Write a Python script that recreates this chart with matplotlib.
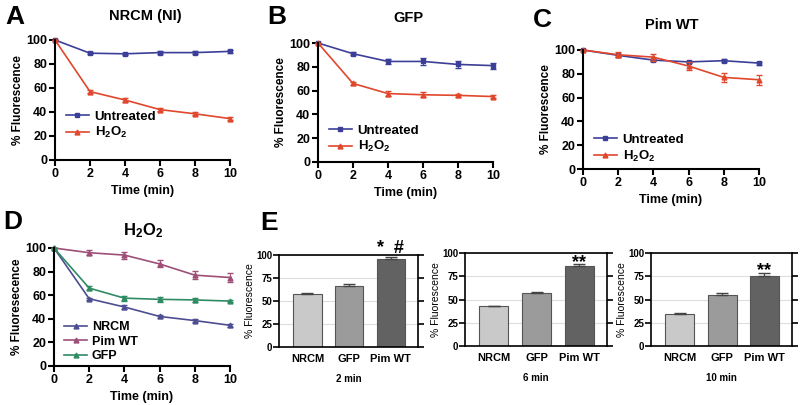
import numpy as np
import matplotlib
matplotlib.use("Agg")
import matplotlib.pyplot as plt

plt.rcParams['font.family'] = ['Liberation Sans', 'DejaVu Sans']
plt.rcParams['mathtext.default'] = 'regular'

# time course data
t = [0, 2, 4, 6, 8, 10]

nrcm_untr = [100, 89, 88.5, 89.5, 89.5, 90.5]
nrcm_untr_err = [0, 0.8, 0.8, 1.0, 1.0, 1.2]
nrcm_h2o2 = [100, 57, 50, 42, 38.5, 34.5]
nrcm_h2o2_err = [0, 1.0, 1.5, 1.5, 1.2, 1.5]

gfp_untr = [100, 91, 84.5, 84.5, 82, 81]
gfp_untr_err = [0, 1.5, 2.0, 3.0, 3.0, 2.5]
gfp_h2o2 = [100, 66, 57.5, 56.5, 56, 55]
gfp_h2o2_err = [0, 1.5, 2.0, 2.0, 1.5, 1.0]

pim_untr = [100, 95.5, 91.5, 90, 91, 89]
pim_untr_err = [0, 1.0, 1.0, 1.0, 1.5, 1.2]
pim_h2o2 = [100, 96, 94, 86.5, 77, 75]
pim_h2o2_err = [0, 2.0, 3.0, 3.0, 3.5, 4.0]

# bar data (H2O2 treated)
groups = ['NRCM', 'GFP', 'Pim WT']
bar_2 = [57.5, 66.5, 95.5]
bar_2_err = [1.0, 2.0, 2.0]
bar_6 = [42.5, 56.5, 86.5]
bar_6_err = [1.0, 2.0, 2.0]
bar_10 = [34.5, 55, 75]
bar_10_err = [1.5, 2.0, 4.0]

blue = '#3c3f98'
red = '#e0472c'
c_nrcm = '#4d4e92'
c_pim = '#9d4f78'
c_gfp = '#2e8b63'
bar_cols = ['#c9c9c9', '#9b9b9b', '#626262']

fig = plt.figure(figsize=(8, 4.05), dpi=100)


def px_axes(l, t_, r, b):
    return fig.add_axes([l / 800, 1 - b / 405, (r - l) / 800, (b - t_) / 405])


def fig_label(x, y, s, **kw):
    fig.text(x / 800, 1 - y / 405, s, ha='center', va='center',
             fontweight='bold', **kw)


def line_panel(ax, series, ylabel, leg_anchor, leg_size=9.5):
    for y, e, c, m, lab in series:
        ax.errorbar(t, y, yerr=e, fmt='none', ecolor=c, capsize=2,
                    elinewidth=0.7, clip_on=False)
        ax.plot(t, y, color=c, marker=m, ms=3.5, lw=1.2, label=lab,
                clip_on=False)
    ax.set_xlim(0, 10)
    ax.set_ylim(0, 100)
    ax.set_xticks([0, 2, 4, 6, 8, 10])
    ax.set_yticks([0, 20, 40, 60, 80, 100])
    for s in ['top', 'right']:
        ax.spines[s].set_visible(False)
    for s in ['left', 'bottom']:
        ax.spines[s].set_linewidth(1.5)
    ax.tick_params(width=1.5, length=4, labelsize=9, pad=1.5)
    for lb in ax.get_xticklabels() + ax.get_yticklabels():
        lb.set_fontweight('bold')
    ax.set_xlabel('Time (min)', fontsize=9, fontweight='bold', labelpad=4)
    ax.set_ylabel(ylabel, fontsize=8.5, fontweight='bold', labelpad=2)
    ax.legend(loc='lower left', bbox_to_anchor=leg_anchor, frameon=False,
              prop={'size': leg_size, 'weight': 'bold'}, handlelength=1.8,
              handletextpad=0.4, labelspacing=0.2, borderaxespad=0)


ax_a = px_axes(55, 40, 230, 160)
line_panel(ax_a, [(nrcm_untr, nrcm_untr_err, blue, 's', 'Untreated'),
                  (nrcm_h2o2, nrcm_h2o2_err, red, '^', 'H$_2$O$_2$')],
           '% Fluorescence', (0.03, 0.12))
fig_label(15, 17, 'A', fontsize=19)
fig_label(145, 16, 'NRCM (NI)', fontsize=10.5)

ax_b = px_axes(318, 43, 493, 162)
line_panel(ax_b, [(gfp_untr, gfp_untr_err, blue, 's', 'Untreated'),
                  (gfp_h2o2, gfp_h2o2_err, red, '^', 'H$_2$O$_2$')],
           '% Fluorescence', (0.03, 0.02))
fig_label(277, 17, 'B', fontsize=19)
fig_label(408, 18, 'GFP', fontsize=10.5)

ax_c = px_axes(583, 50, 759, 169)
line_panel(ax_c, [(pim_untr, pim_untr_err, blue, 's', 'Untreated'),
                  (pim_h2o2, pim_h2o2_err, red, '^', 'H$_2$O$_2$')],
           '% Fluorescence', (0.03, 0.0))
fig_label(542, 20, 'C', fontsize=19)
fig_label(672, 25, 'Pim WT', fontsize=10.5)

ax_d = px_axes(54, 248, 230, 366)
line_panel(ax_d, [(nrcm_h2o2, nrcm_h2o2_err, c_nrcm, '^', 'NRCM'),
                  (pim_h2o2, pim_h2o2_err, c_pim, '^', 'Pim WT'),
                  (gfp_h2o2, gfp_h2o2_err, c_gfp, '^', 'GFP')],
           '% Fluoresecence', (0.03, -0.01), leg_size=9)
fig_label(13, 222, 'D', fontsize=19)
fig_label(143, 231, 'H$_2$O$_2$', fontsize=12)


def bar_panel(ax, vals, errs, xlabel, marks):
    x = np.arange(len(groups))
    ax.bar(x, vals, width=0.68, color=bar_cols, edgecolor='#555555', lw=0.8,
           zorder=2)
    ax.errorbar(x, vals, yerr=[[0] * len(errs), errs], fmt='none',
                ecolor='#444444', elinewidth=0.9, capsize=4, zorder=3)
    ax.set_xlim(-0.68, 2.65)
    ax.set_ylim(0, 100)
    ax.set_yticks([0, 25, 50, 75, 100])
    ax.yaxis.grid(True, color='#dddddd', lw=0.8, zorder=0)
    ax.set_axisbelow(True)
    ax.set_xticks(x)
    ax.set_xticklabels(groups, fontsize=8, fontweight='bold')
    ax.tick_params(axis='x', length=0, pad=5)
    ax.tick_params(axis='y', width=1.2, length=4, labelsize=7, pad=1,
                   right=True, direction='out')
    for lb in ax.get_yticklabels():
        lb.set_fontweight('bold')
    for s in ax.spines.values():
        s.set_linewidth(1.2)
    ax.set_ylabel('% Fluorescence', fontsize=7.5, labelpad=1)
    ax.set_xlabel(xlabel, fontsize=7, fontweight='bold', labelpad=7)
    for i, mk, off in marks:
        ax.text(i, vals[i] + errs[i] + off, mk, ha='center', va='baseline',
                fontsize=13, fontweight='bold', clip_on=False, zorder=4)


ax_e1 = px_axes(279, 255, 418, 347)
bar_panel(ax_e1, bar_2, bar_2_err, '2 min', [(2, '*  #', 5)])
fig_label(269, 223, 'E', fontsize=19)
ax_e2 = px_axes(465, 253, 607, 346)
bar_panel(ax_e2, bar_6, bar_6_err, '6 min', [(2, '**', -4)])
ax_e3 = px_axes(651, 253, 792, 346)
bar_panel(ax_e3, bar_10, bar_10_err, '10 min', [(2, '**', -3)])

fig.savefig('out.png', dpi=100)
